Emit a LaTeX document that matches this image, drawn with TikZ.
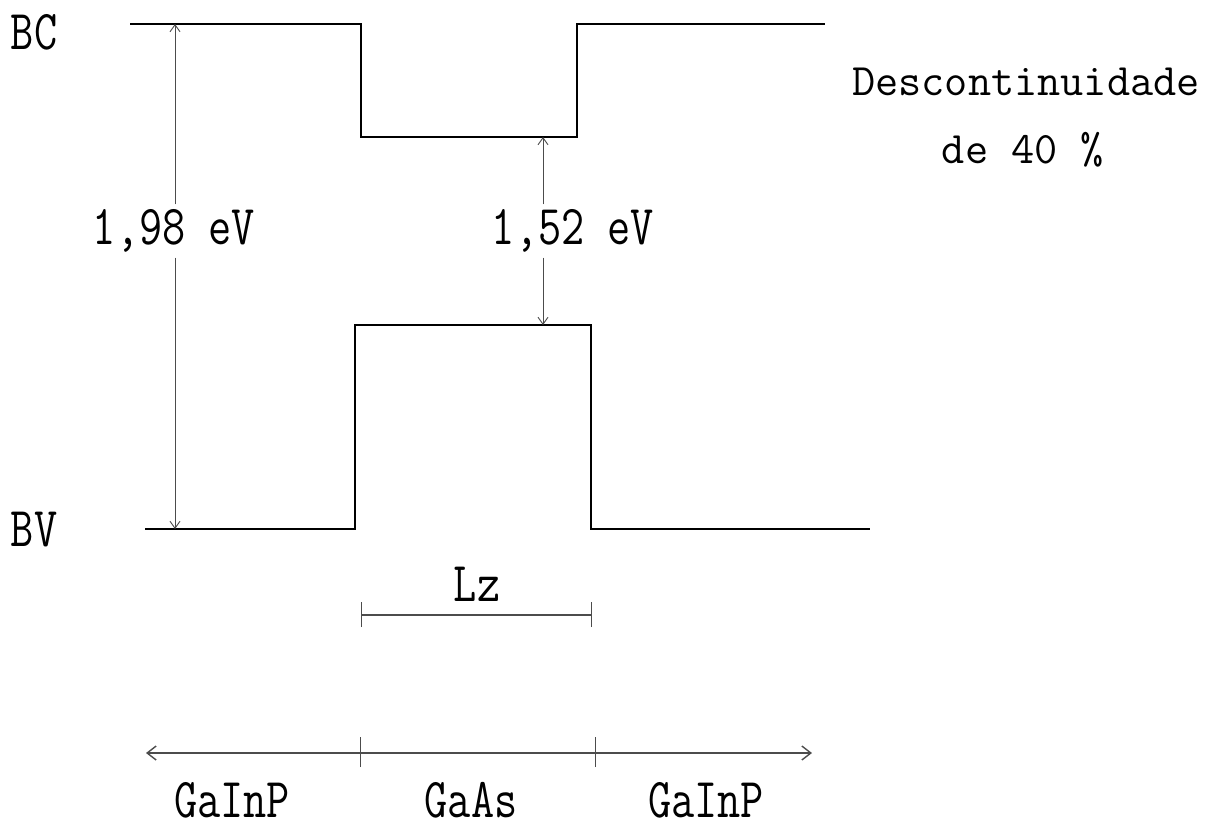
\documentclass[tikz,border=0pt]{standalone}
\usepackage{fontspec}
\usetikzlibrary{arrows.meta}
\newcommand{\tallt}[1]{\scalebox{1}[1.25]{#1}}
\begin{document}
\begin{tikzpicture}[x=1pt,y=-1pt,
  band/.style={draw=black,line width=1.6pt},
  dimline/.style={draw=black!70,line width=0.9pt},
  tip/.style={-{Straight Barb[length=7pt,width=10pt]}},
  lbl/.style={font=\ttfamily\fontsize{45}{45}\selectfont,inner sep=0pt,text=black}]
\useasboundingbox (0,0) rectangle (1215,830);
% conduction band
\coordinate (c1) at (130,24);
\coordinate (c2) at (361,24);
\coordinate (c3) at (361,137);
\coordinate (c4) at (577,137);
\coordinate (c5) at (577,24);
\coordinate (c6) at (825,24);
\draw[band] (c1) -- (c2) -- (c3) -- (c4) -- (c5) -- (c6);
% valence band
\coordinate (v1) at (145,529);
\coordinate (v2) at (355,529);
\coordinate (v3) at (355,325);
\coordinate (v4) at (591,325);
\coordinate (v5) at (591,529);
\coordinate (v6) at (870,529);
\draw[band] (v1) -- (v2) -- (v3) -- (v4) -- (v5) -- (v6);
% gap arrows
\coordinate (a1t) at (175,24);
\coordinate (a1b) at (175,529);
\coordinate (a2t) at (543,137);
\coordinate (a2b) at (543,325);
\node[lbl,fill=white,inner xsep=0pt,inner ysep=5pt] (g1) at (174,231) {\tallt{1,98 eV}};
\node[lbl,fill=white,inner xsep=0pt,inner ysep=5pt] (g2) at (573,231) {\tallt{1,52 eV}};
\draw[dimline,tip] (g1.north -| a1t) -- (a1t);
\draw[dimline,tip] (g1.south -| a1b) -- (a1b);
\draw[dimline,tip] (g2.north -| a2t) -- (a2t);
\draw[dimline,tip] (g2.south -| a2b) -- (a2b);
% band labels
\node[lbl] (bc) at (34,32) {\tallt{BC}};
\node[lbl] (bv) at (34,530) {\tallt{BV}};
% discontinuity text
\node[lbl] (d1) at (1026,82) {Descontinuidade};
\node[lbl] (d2) at (1023,150) {de 40 \%};
% Lz
\coordinate (lzl) at (361,615);
\coordinate (lzr) at (591,615);
\draw[dimline,line width=1.2pt] (lzl) -- (lzr);
\draw[dimline] ([yshift=-12pt]lzl) -- ([yshift=13pt]lzl);
\draw[dimline] ([yshift=-12pt]lzr) -- ([yshift=13pt]lzr);
\node[lbl] (lz) at (477,584) {\tallt{Lz}};
% bottom axis
\coordinate (ax1) at (146,753);
\coordinate (ax2) at (812,753);
\coordinate (t1) at (360,753);
\coordinate (t2) at (595,753);
\draw[dimline,line width=1.4pt,{Straight Barb[length=9pt,width=14pt]}-{Straight Barb[length=9pt,width=14pt]}] (ax1) -- (ax2);
\draw[dimline] ([yshift=-14pt]t1) -- ([yshift=16pt]t1);
\draw[dimline] ([yshift=-14pt]t2) -- ([yshift=16pt]t2);
\node[lbl] (m1) at (232,800) {\tallt{GaInP}};
\node[lbl] (m2) at (471,800) {\tallt{GaAs}};
\node[lbl] (m3) at (706,800) {\tallt{GaInP}};
\end{tikzpicture}
\end{document}
